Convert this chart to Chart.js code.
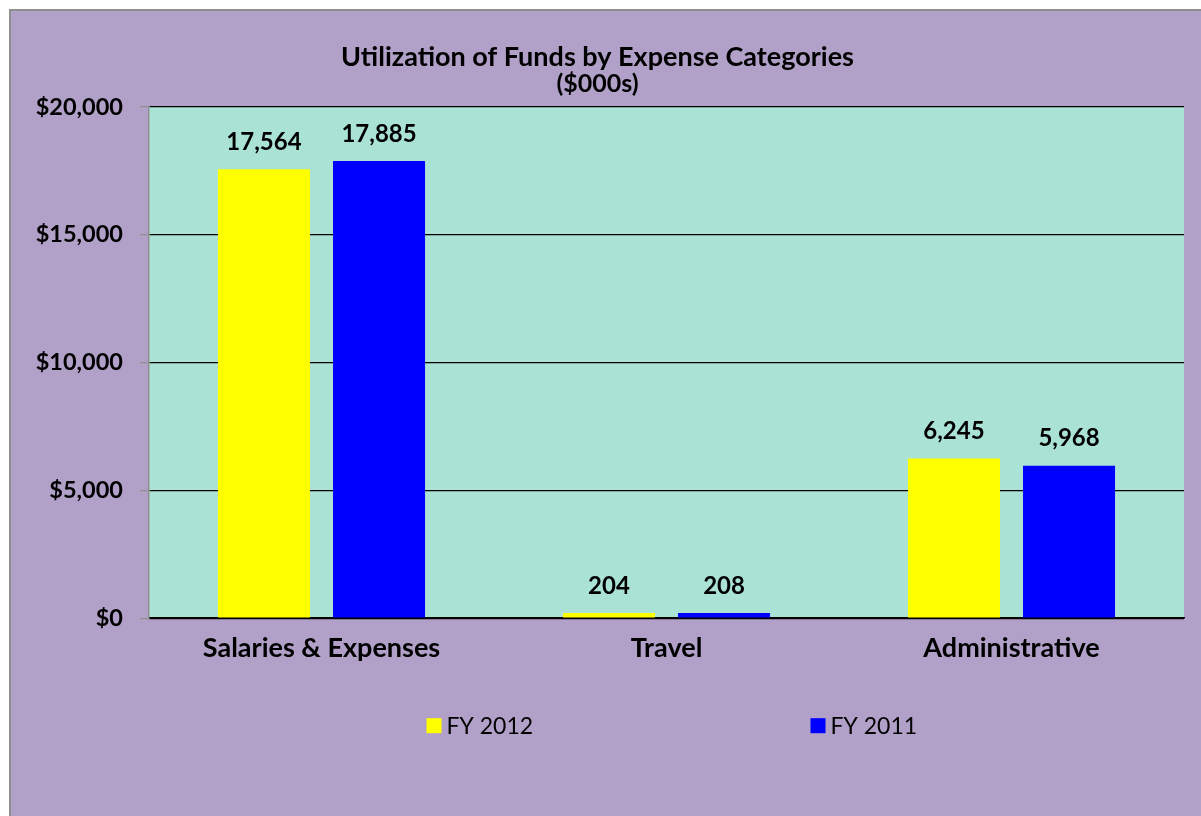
<!DOCTYPE html>
<html>
<head>
<meta charset="utf-8">
<title>Utilization of Funds by Expense Categories</title>
<script src="https://cdn.jsdelivr.net/npm/chart.js@4.4.1/dist/chart.umd.min.js"></script>
<style>
	html, body {
		margin: 0;
		background: #fff;
		overflow: hidden;
	}
	#frame {
		position: absolute;
		left: 9px;
		top: 9px;
		border-left: 2px solid #8f8f8f;
		border-top: 2px solid #8f8f8f;
		background: #b1a0c7;
	}
	canvas {
		display: block;
	}
</style>
</head>
<body>
<div id="frame"><canvas id="chart" width="1200" height="820"></canvas></div>
<script>
const categories = ['Salaries & Expenses', 'Travel', 'Administrative'];
const fy2012 = [17564, 204, 6245];
const fy2011 = [17885, 208, 5968];
const yTicks = [0, 5000, 10000, 15000, 20000];

const FONT = 'Lato';
const money = value => '$' + value.toLocaleString('en-US');

// teal fill behind the bars only
const plotBackground = {
	id: 'plotBackground',
	beforeDraw: chart => {
		const {ctx, chartArea} = chart;
		ctx.save();
		ctx.fillStyle = '#aae3d6';
		ctx.fillRect(chartArea.left, chartArea.top, chartArea.right - chartArea.left, chartArea.bottom - chartArea.top);
		ctx.restore();
	}
};

// value printed above each bar
const barValues = {
	id: 'barValues',
	afterDatasetsDraw: chart => {
		const ctx = chart.ctx;
		ctx.save();
		ctx.font = 'bold 24px ' + FONT;
		ctx.fillStyle = '#000';
		ctx.textAlign = 'center';
		ctx.textBaseline = 'middle';
		chart.data.datasets.forEach((dataset, i) => {
			chart.getDatasetMeta(i).data.forEach((bar, j) => {
				ctx.fillText(dataset.data[j].toLocaleString('en-US'), bar.x, bar.y - 27);
			});
		});
		ctx.restore();
	}
};

// legend centred under the plot area, items spread wide apart
const bottomLegend = {
	id: 'bottomLegend',
	afterDraw: chart => {
		const {ctx, chartArea} = chart;
		const y = chartArea.bottom + 107;
		let x = (chartArea.left + chartArea.right) / 2 - 240;
		ctx.save();
		ctx.font = '23px ' + FONT;
		ctx.textBaseline = 'middle';
		chart.data.datasets.forEach(dataset => {
			ctx.fillStyle = dataset.backgroundColor;
			ctx.fillRect(x, y - 7, 15, 15);
			ctx.fillStyle = '#000';
			ctx.fillText(dataset.label, x + 20, y + 1);
			x += 384;
		});
		ctx.restore();
	}
};

const draw = () => {
	new Chart('chart', {
		type: 'bar',
		data: {
			labels: categories,
			datasets: [{
				label: 'FY 2012',
				data: fy2012,
				backgroundColor: '#ffff00',
				categoryPercentage: 0.667,
				barPercentage: 0.8
			}, {
				label: 'FY 2011',
				data: fy2011,
				backgroundColor: '#0000ff',
				categoryPercentage: 0.667,
				barPercentage: 0.8
			}]
		},
		options: {
			responsive: false,
			animation: false,
			layout: {
				padding: { left: 0, right: 27, top: 0, bottom: 152.4 }
			},
			plugins: {
				legend: { display: false },
				tooltip: { enabled: false },
				title: {
					display: true,
					text: 'Utilization of Funds by Expense Categories',
					color: '#000',
					font: { family: FONT, size: 27, weight: 'bold', lineHeight: 1 },
					padding: { top: 32.5, bottom: 0 }
				},
				subtitle: {
					display: true,
					text: '($000s)',
					color: '#000',
					font: { family: FONT, size: 25, weight: 'bold', lineHeight: 1 },
					padding: { top: 1, bottom: 10.5 }
				}
			},
			scales: {
				x: {
					grid: { display: false, drawTicks: false },
					border: { color: '#000', width: 1.5 },
					ticks: {
						color: '#000',
						padding: 14,
						font: { family: FONT, size: 27, weight: 'bold', lineHeight: 1.2 }
					}
				},
				y: {
					min: 0,
					max: 20000,
					afterBuildTicks: scale => {
						scale.ticks = yTicks.map(value => ({ value }));
					},
					afterFit: scale => {
						scale.width = 138;
					},
					grid: {
						color: '#000',
						lineWidth: 1.3,
						tickColor: '#8f8f8f',
						tickLength: 9
					},
					border: { color: '#8f8f8f', width: 1.5 },
					ticks: {
						color: '#000',
						padding: 17,
						font: { family: FONT, size: 23.5, weight: 'bold' },
						callback: value => money(value)
					}
				}
			}
		},
		plugins: [plotBackground, barValues, bottomLegend]
	});
};

Promise.all([
	document.fonts.load('bold 23px ' + FONT),
	document.fonts.load('23px ' + FONT)
]).then(draw, draw);
</script>
</body>
</html>
